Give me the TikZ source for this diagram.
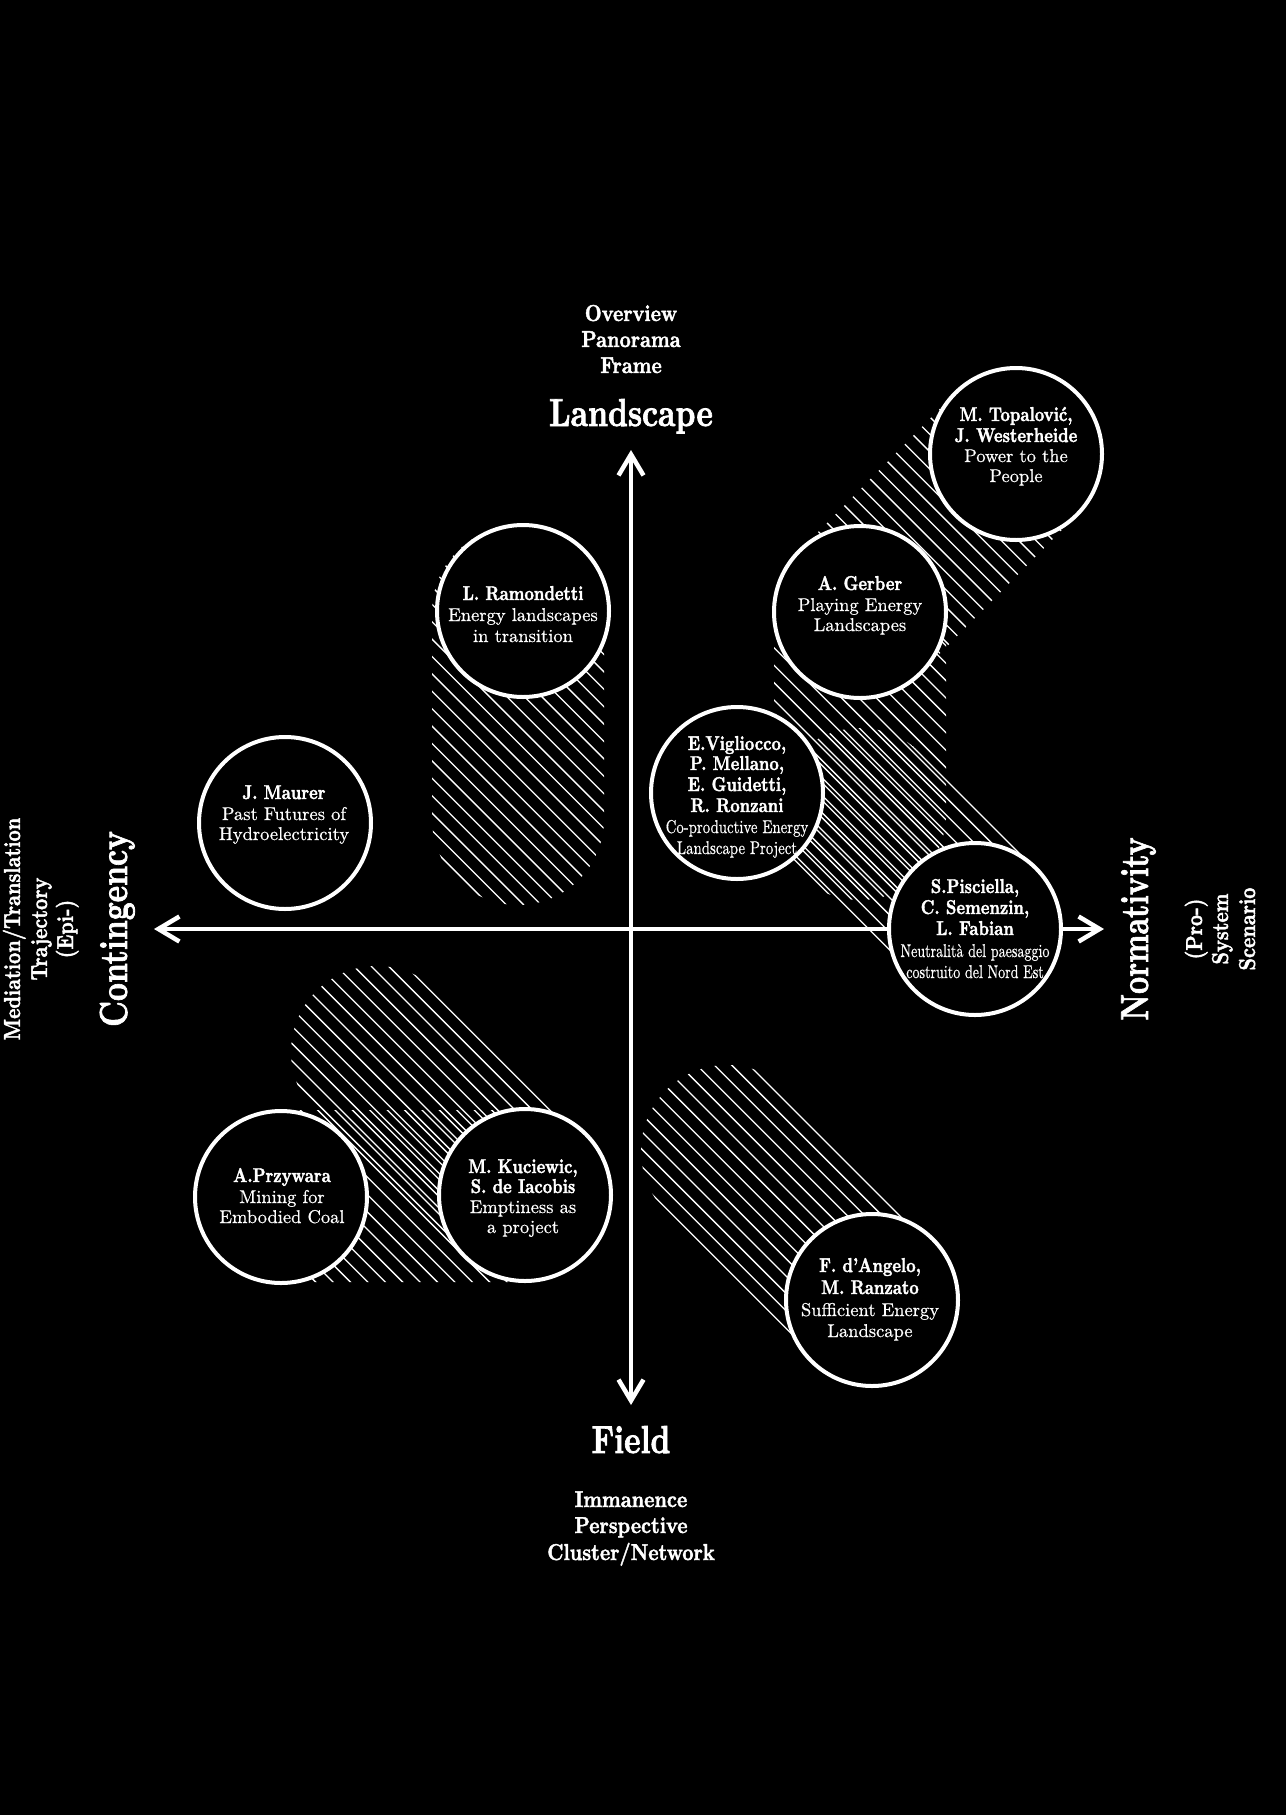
\documentclass[tikz,border=0pt]{standalone}
\usepackage{graphicx}
\usepackage{fontspec}
\newfontfamily\hv{lmroman10-bold.otf}[FakeBold=2]
\newfontfamily\rg{lmroman10-regular.otf}[FakeBold=0.6]
\usetikzlibrary{arrows.meta}
% hatched capsule: A=(#1,#2), B=(#3,#4), axis angle #5, first hatch offset #6
\newcommand\hcap[6]{%
  \begin{scope}
    \clip (#1,#2) ++(#5+90:86) -- ++(#3-#1,#4-#2)
      arc[start angle=#5+90, end angle=#5-90, radius=86]
      -- ++(#1-#3,#2-#4)
      arc[start angle=#5-90, end angle=#5-270, radius=86] -- cycle;
    \foreach \i in {0,...,50}{%
      \pgfmathsetmacro\ka{#6+17.4*\i}%
      \pgfmathsetmacro\kb{\ka+1286}%
      \draw[hatch] (0,\ka) -- (1286,\kb);}
  \end{scope}}
\begin{document}
\begin{tikzpicture}[x=0.5pt,y=-0.5pt,
  hatch/.style={white, line width=0.65pt},
  ring/.style={circle, draw=white, fill=black, line width=2pt, minimum size=86pt, inner sep=0pt},
  axis/.style={white, line width=2.25pt,
    {Straight Barb[length=10.5pt,width=12.5pt]}-{Straight Barb[length=10.5pt,width=12.5pt]}},
  big/.style={text=white, inner sep=0pt, anchor=base, font=\fontsize{19.5pt}{23pt}\hv, xscale=0.8},
  lab/.style={text=white, inner sep=0pt, anchor=base, font=\fontsize{11.5pt}{13pt}\hv, xscale=0.85},
  nm/.style={text=white, inner sep=0pt, anchor=base, font=\fontsize{10pt}{12pt}\hv, xscale=0.82},
  tt/.style={text=white, inner sep=0pt, anchor=base, font=\fontsize{9.25pt}{11pt}\rg},
]
\useasboundingbox (0,0) rectangle (1286,1815);
\fill[black] (0,0) rectangle (1286,1815);

% hatched trails
\hcap{518}{612}{518}{819}{90}{-71.3}
\hcap{860}{612}{1016}{454}{-45.4}{-739.1}
\hcap{860}{612}{860}{814}{90}{-422}
\hcap{860}{814}{975}{929}{45}{-340}
\hcap{377}{1052}{523}{1196}{44.6}{351.4}
\hcap{281}{1196}{524}{1196}{0}{357.4}
\hcap{727}{1151}{872}{1300}{45.8}{107.2}

% axes
\coordinate (N) at (631,450);
\coordinate (S) at (631,1405);
\coordinate (W) at (154,929);
\coordinate (E) at (1104,929);
\draw[axis] (S) -- (N);
\draw[axis] (W) -- (E);

% circles
\node[ring] (topa) at (1016,454) {};
\node[ring] (gerb) at (860,612) {};
\node[ring] (ramo) at (523,611) {};
\node[ring] (vigl) at (737,793) {};
\node[ring] (pisc) at (975,929) {};
\node[ring] (maur) at (285,823) {};
\node[ring] (przy) at (281,1197) {};
\node[ring] (kuci) at (525,1195) {};
\node[ring] (dang) at (872,1300) {};

% circle texts
\node[nm] (topa1) at (1016,421) {M. Topalović,};
\node[nm] (topa2) at (1016,442) {J. Westerheide};
\node[tt] (topa3) at (1016,462) {Power to the};
\node[tt] (topa4) at (1016,482) {People};

\node[nm] (gerb1) at (860,590) {A. Gerber};
\node[tt] (gerb2) at (860,611) {Playing Energy};
\node[tt] (gerb3) at (860,631) {Landscapes};

\node[nm] (ramo1) at (523,600) {L. Ramondetti};
\node[tt] (ramo2) at (523,621) {Energy landscapes};
\node[tt] (ramo3) at (523,642) {in transition};

\node[nm] (vigl1) at (737,750) {E.Vigliocco,};
\node[nm] (vigl2) at (737,770) {P. Mellano,};
\node[nm] (vigl3) at (737,791) {E. Guidetti,};
\node[nm] (vigl4) at (737,812) {R. Ronzani};
\node[tt, xscale=0.8] (vigl5) at (737,833) {Co-productive Energy};
\node[tt, xscale=0.8] (vigl6) at (737,854) {Landscape Project};

\node[nm] (pisc1) at (975,893) {S.Pisciella,};
\node[nm] (pisc2) at (975,914) {C. Semenzin,};
\node[nm] (pisc3) at (975,935) {L. Fabian};
\node[tt, xscale=0.76] (pisc4) at (975,957) {Neutralità del paesaggio};
\node[tt, xscale=0.76] (pisc5) at (975,978) {costruito del Nord Est};

\node[nm] (maur1) at (284,799) {J. Maurer};
\node[tt] (maur2) at (284,820) {Past Futures of};
\node[tt] (maur3) at (284,840) {Hydroelectricity};

\node[nm] (przy1) at (282,1182) {A.Przywara};
\node[tt] (przy2) at (282,1203) {Mining for};
\node[tt] (przy3) at (282,1223) {Embodied Coal};

\node[nm] (kuci1) at (523,1173) {M. Kuciewic,};
\node[nm] (kuci2) at (523,1193) {S. de Iacobis};
\node[tt] (kuci3) at (523,1213) {Emptiness as};
\node[tt] (kuci4) at (523,1233) {a project};

\node[nm] (dang1) at (870,1272) {F. d’Angelo,};
\node[nm] (dang2) at (870,1294) {M. Ranzato};
\node[tt] (dang3) at (870,1316) {Sufficient Energy};
\node[tt] (dang4) at (870,1337) {Landscape};

% axis labels
\node[lab] (ov) at (631,321) {Overview};
\node[lab] (pan) at (631,347) {Panorama};
\node[lab] (fr) at (631,373) {Frame};
\node[big] (land) at (631,426) {Landscape};

\node[big] (field) at (631,1453) {Field};
\node[lab] (imm) at (631,1507) {Immanence};
\node[lab] (per) at (631,1533) {Perspective};
\node[lab] (clu) at (631,1560) {Cluster/Network};

\node[rotate=90, lab] (med) at (20,929) {Mediation/Translation};
\node[rotate=90, lab] (traj) at (47,929) {Trajectory};
\node[rotate=90, lab] (epi) at (73,929) {(Epi-)};
\node[rotate=90, big] (cont) at (127,929) {Contingency};

\node[rotate=90, big, xscale=0.95] (norm) at (1148,929) {Normativity};
\node[rotate=90, lab] (pro) at (1202,929) {(Pro-)};
\node[rotate=90, lab] (sys) at (1228,929) {System};
\node[rotate=90, lab] (scen) at (1255,929) {Scenario};
\end{tikzpicture}
\end{document}
